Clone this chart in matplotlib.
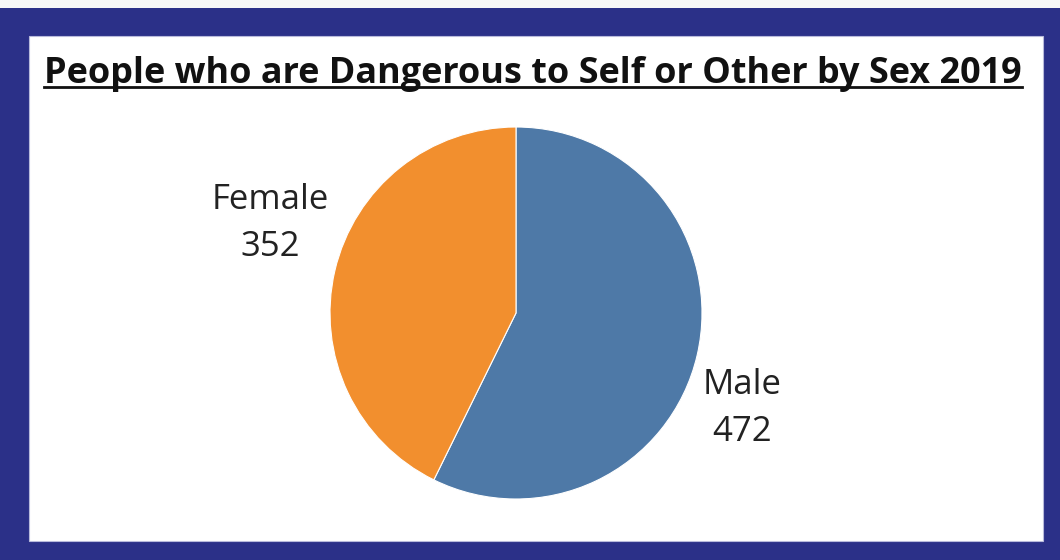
import matplotlib
matplotlib.use("Agg")
import matplotlib.pyplot as plt
from matplotlib.patches import Rectangle
from matplotlib.lines import Line2D

# Data
categories = ["Male", "Female"]
counts = [472, 352]
colors = ["#4E79A7", "#F28F2E"]
title = "People who are Dangerous to Self or Other by Sex 2019"

W, H = 1060, 560
FONT = ["Open Sans", "DejaVu Sans"]
fig = plt.figure(figsize=(W / 100, H / 100), dpi=100)
fig.patch.set_facecolor("#F7F7F7")

# Background canvas in pixel coordinates (y downwards)
bg = fig.add_axes([0, 0, 1, 1])
bg.set_xlim(0, W)
bg.set_ylim(H, 0)
bg.axis("off")
navy = "#2B3088"
bg.add_patch(Rectangle((0, 8), W, H - 8, facecolor=navy, edgecolor="none"))
bg.add_patch(Rectangle((29, 36), 1014, 505, facecolor="white",
                       edgecolor="#B8BADB", linewidth=0.8))

# Title, sized to span the panel, with underline
t = bg.text(533, 83, title, ha="center", va="baseline",
            fontsize=22, fontweight="bold", family=FONT, color="#111111")
fig.canvas.draw()
w0 = t.get_window_extent().width
t.set_fontsize(22 * 973 / w0)
fig.canvas.draw()
bb = t.get_window_extent()
bg.add_line(Line2D([bb.x0, bb.x1], [87, 87], color="#111111", linewidth=2.0))

# Pie
cx, cy, r = 516, 313, 186
pax = fig.add_axes([(cx - r) / W, (H - cy - r) / H, 2 * r / W, 2 * r / H])
labels = [f"{c}\n{v}" for c, v in zip(categories, counts)]
wedges, texts = pax.pie(counts, labels=labels, colors=colors, startangle=90,
                        counterclock=False,
                        wedgeprops=dict(edgecolor="white", linewidth=0.8),
                        textprops=dict(fontsize=25, color="#222222",
                                       family=FONT, linespacing=1.5))
pax.set_aspect("equal")
pax.set_xlim(-1, 1)
pax.set_ylim(-1, 1)
label_pos = {"Male": (1.215, -0.515), "Female": (-1.323, 0.48)}
for txt, cat in zip(texts, categories):
    txt.set_position(label_pos[cat])
    txt.set_ha("center")
    txt.set_va("center")
    txt.set_multialignment("center")

fig.savefig("out.png", dpi=100, facecolor=fig.get_facecolor())
